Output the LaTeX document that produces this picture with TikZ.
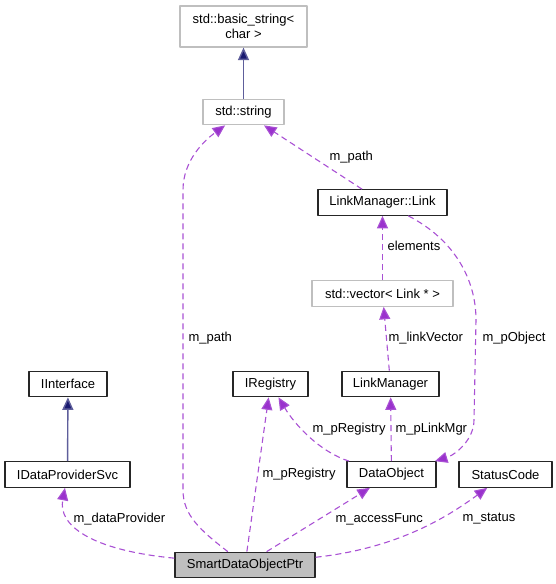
\documentclass[tikz,border=0pt]{standalone}
\usepackage{fontspec}
\setmainfont{Liberation Sans}
\usetikzlibrary{arrows.meta}
\definecolor{midnightblue}{HTML}{191970}
\definecolor{darkorchid}{HTML}{9A32CD}
\definecolor{boxgray}{HTML}{BFBFBF}
\begin{document}
\begin{tikzpicture}[x=1pt, y=-1pt, line join=round,
		every node/.style={font=\fontsize{13}{15}\selectfont},
		cls/.style={rectangle, draw=black!85, line width=1.2pt, fill=white, minimum height=25.5pt, inner sep=0pt, align=center},
		ext/.style={cls, draw=boxgray},
		inherit/.style={draw=midnightblue!70, line width=1.4pt, -{Triangle[length=12.5pt, width=11pt, fill=midnightblue]}},
		member/.style={draw=darkorchid!85, line width=1.1pt, dash pattern=on 6pt off 4pt, -{Triangle[length=12.5pt, width=11pt, fill=darkorchid]}},
		lbl/.style={anchor=west, inner sep=0pt}]
	\useasboundingbox (0, 0) rectangle (556, 584);
	% Library classes
	\node [ext, minimum width=127pt, minimum height=41pt] (basic-string) at (243.5, 26.5) {std::basic\_string<\\char >};
	\node [ext, minimum width=81pt] (std-string) at (243.5, 112) {std::string};
	\node [ext, minimum width=141pt] (link-vector) at (382.5, 293.5) {std::vector< Link * >};
	% Documented classes
	\node [cls, minimum width=129pt] (link) at (382.5, 202.5) {LinkManager::Link};
	\node [cls, minimum width=78pt] (iinterface) at (68, 384) {IInterface};
	\node [cls, minimum width=75pt] (iregistry) at (270.5, 384) {IRegistry};
	\node [cls, minimum width=97pt] (link-manager) at (390.5, 384) {LinkManager};
	\node [cls, minimum width=125pt] (data-provider) at (67.5, 474.5) {IDataProviderSvc};
	\node [cls, minimum width=89pt] (data-object) at (391.5, 474.5) {DataObject};
	\node [cls, minimum width=93pt] (status-code) at (505.5, 474.5) {StatusCode};
	\node [cls, fill=boxgray, minimum width=140pt] (smart-ptr) at (245, 565) {SmartDataObjectPtr};
	% Inheritance arrows
	\draw [inherit] (std-string) -- (basic-string);
	\draw [inherit] (data-provider) -- (iinterface);
	% Member arrows
	\draw [member] (smart-ptr) .. controls (200, 530) and (183, 515) .. (183, 490) -- (183, 190) .. controls (183, 160) and (205, 140) .. (std-string)
		node [lbl] at (188, 338) {m\_path};
	\draw [member] (link) -- (std-string) node [lbl] at (329, 157) {m\_path};
	\draw [member] (link-vector) -- (link) node [lbl] at (387, 246) {elements};
	\draw [member] (link-manager) -- (link-vector) node [lbl] at (388, 338) {m\_linkVector};
	\draw [member] (link) .. controls (455, 240) and (476, 280) .. (476, 320) -- (474, 420) .. controls (474, 440) and (455, 455) .. (data-object)
		node [lbl] at (482, 338) {m\_pObject};
	\draw [member] (data-object) -- (link-manager) node [lbl] at (395, 429) {m\_pLinkMgr};
	\draw [member] (data-object) .. controls (320, 452) and (295, 425) .. (iregistry) node [lbl] at (312, 429) {m\_pRegistry};
	\draw [member] (smart-ptr) -- (iregistry) node [lbl] at (262, 474) {m\_pRegistry};
	\draw [member] (smart-ptr) -- (data-object) node [lbl] at (335, 519) {m\_accessFunc};
	\draw [member] (smart-ptr) .. controls (400, 548) and (450, 515) .. (status-code) node [lbl] at (462, 519) {m\_status};
	\draw [member] (smart-ptr) .. controls (90, 550) and (58, 525) .. (data-provider) node [lbl] at (73, 519) {m\_dataProvider};
\end{tikzpicture}
\end{document}
